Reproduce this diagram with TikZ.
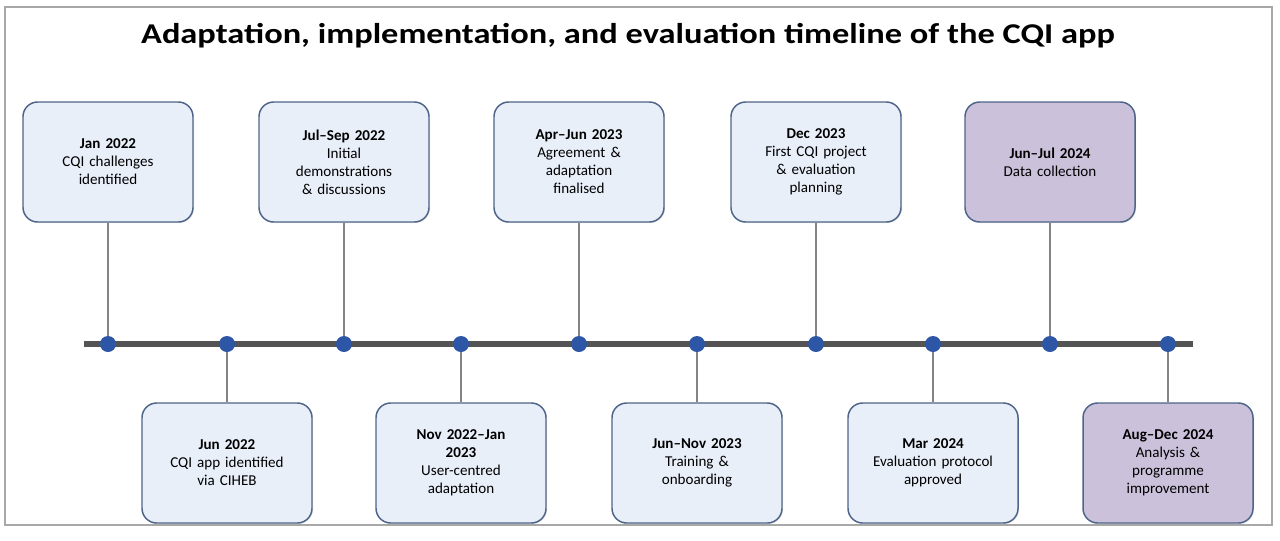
\documentclass[tikz,border=0pt]{standalone}
\usepackage{fontspec}
\setmainfont{Carlito}
\newfontfamily\titlefont{Carlito}[FakeStretch=1.2]
\usetikzlibrary{shadows}

\definecolor{boxblue}{HTML}{E9EFF9}
\definecolor{boxlilac}{HTML}{CCC1DB}
\definecolor{boxedge}{HTML}{4E6488}
\definecolor{dotblue}{HTML}{2E56A6}
\definecolor{bargray}{HTML}{545454}
\definecolor{stemgray}{HTML}{848484}
\definecolor{framegray}{HTML}{A8A8A8}

\tikzset{
	event/.style={draw=boxedge, line width=1.1pt, rounded corners=11pt,
		minimum width=127.5pt, minimum height=90pt, text width=115pt,
		inner xsep=6.25pt, align=center, font=\fontsize{11.3}{13.5}\selectfont,
		drop shadow={opacity=0.2, shadow xshift=0.8pt, shadow yshift=-0.8pt}},
	dot/.style={circle, fill=dotblue, inner sep=0pt, minimum size=12pt},
	stem/.style={draw=stemgray, line width=1.4pt},
	bar/.style={draw=bargray, line width=5pt}
}

\begin{document}
\begin{tikzpicture}[x=0.75pt,y=-0.75pt]
\useasboundingbox (0,0) rectangle (1280,540);

% border
\draw[framegray, line width=1.4pt] (5,7) rectangle (1272,525);

% title
\node[anchor=base, font=\titlefont\bfseries\fontsize{21.5}{25}\selectfont] (title) at (628,43)
	{Adaptation, implementation, and evaluation timeline of the CQI app};

% timeline
\coordinate (barL) at (84,344);
\coordinate (barR) at (1193,344);
\draw[bar] (barL) -- (barR);

% events
\foreach \i/\x/\y/\fillc/\date/\what in {
	1/108/162/boxblue/{Jan 2022}/{CQI challenges\\identified},
	2/227/463/boxblue/{Jun 2022}/{CQI app identified\\via CIHEB},
	3/344/162/boxblue/{Jul–Sep 2022}/{Initial\\demonstrations\\\& discussions},
	4/461/463/boxblue/{Nov 2022–Jan\\2023}/{User-centred\\adaptation},
	5/579/162/boxblue/{Apr–Jun 2023}/{Agreement \&\\adaptation\\finalised},
	6/697/463/boxblue/{Jun–Nov 2023}/{Training \&\\onboarding},
	7/816/162/boxblue/{Dec 2023}/{First CQI project\\\& evaluation\\planning},
	8/933/463/boxblue/{Mar 2024}/{Evaluation protocol\\approved},
	9/1050/162/boxlilac/{Jun–Jul 2024}/{Data collection},
	10/1168/463/boxlilac/{Aug–Dec 2024}/{Analysis \&\\programme\\improvement}} {
	\node[event, fill=\fillc] (e\i) at (\x,\y) {{\bfseries \date}\\\what};
	\node[dot] (d\i) at (\x,344) {};
	\draw[stem] (e\i) -- (d\i);
}

\end{tikzpicture}
\end{document}
